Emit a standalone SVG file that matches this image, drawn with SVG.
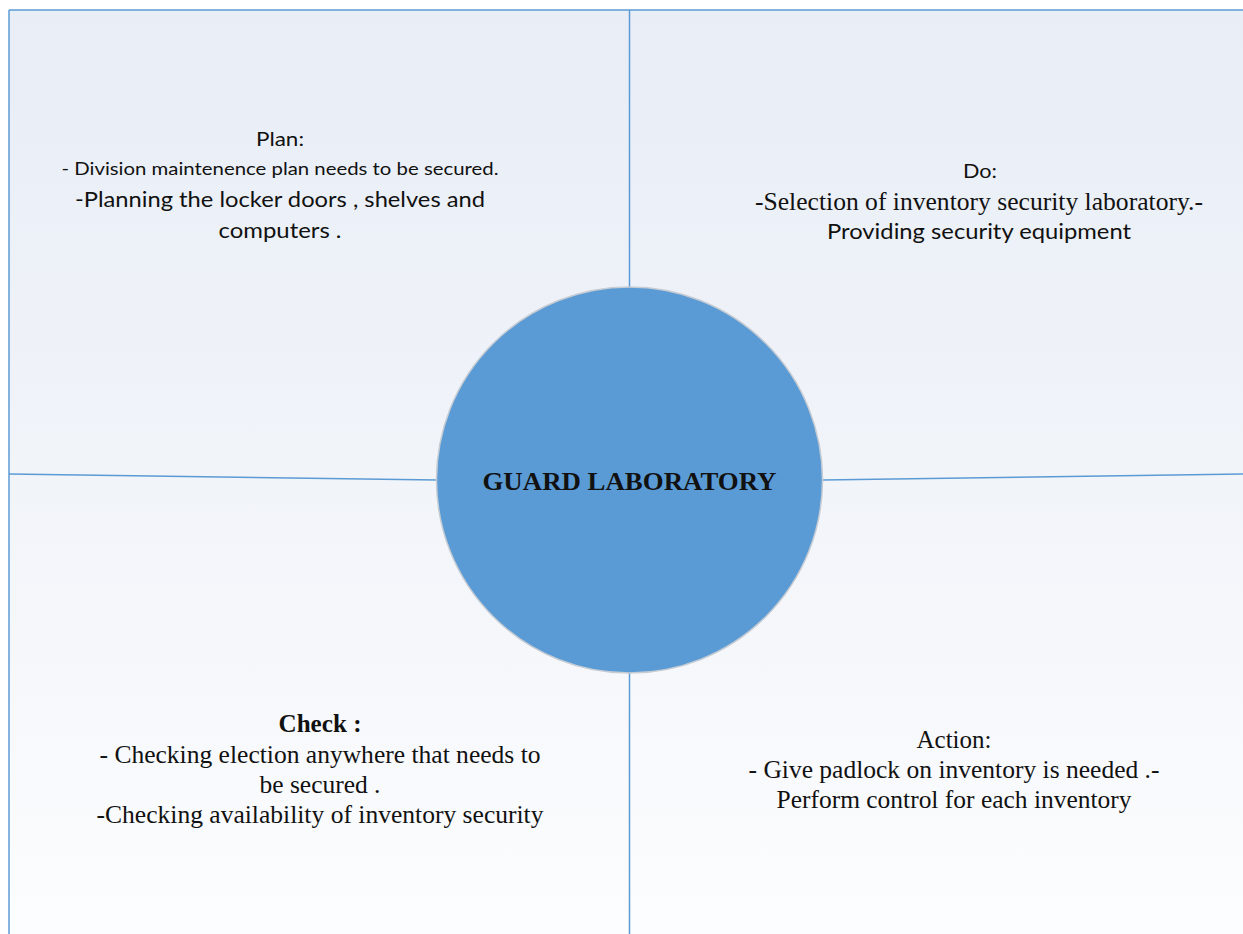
<svg xmlns="http://www.w3.org/2000/svg" width="1243" height="934" viewBox="0 0 1243 934">
<defs>
<linearGradient id="bg" x1="0" y1="0" x2="0" y2="1">
<stop offset="0" stop-color="#e8edf6"/>
<stop offset="0.5" stop-color="#f1f4f9"/>
<stop offset="1" stop-color="#fcfdfe"/>
</linearGradient>
</defs>
<style>
.ln{stroke:#5b9bd5;stroke-width:1.5;fill:none}
.cal{font-family:Lato,"Liberation Sans",sans-serif;fill:#111;text-anchor:middle}
.tnr{font-family:"Liberation Serif",serif;fill:#111;text-anchor:middle}
</style>
<rect x="0" y="0" width="1243" height="934" fill="#ffffff"/>
<rect x="9" y="10" width="1240" height="930" fill="url(#bg)"/>
<g id="connectors">
<line class="ln" x1="9" y1="10" x2="1243" y2="10"/>
<line class="ln" x1="9" y1="10" x2="9" y2="934"/>
<line class="ln" x1="629.5" y1="10" x2="629.5" y2="288"/>
<line class="ln" x1="629.5" y1="672" x2="629.5" y2="934"/>
<line class="ln" x1="9" y1="474" x2="437" y2="480"/>
<line class="ln" x1="822" y1="480" x2="1243" y2="474"/>
</g>
<g id="plan">
<text class="cal" x="280" y="146" font-size="20" textLength="48" lengthAdjust="spacingAndGlyphs">Plan:</text>
<text class="cal" x="280" y="175" font-size="16.5" textLength="437" lengthAdjust="spacingAndGlyphs">- Division maintenence plan needs to be secured.</text>
<text class="cal" x="280" y="207" font-size="22" textLength="410" lengthAdjust="spacingAndGlyphs">-Planning the locker doors , shelves and</text>
<text class="cal" x="280" y="238" font-size="22" textLength="123" lengthAdjust="spacingAndGlyphs">computers .</text>
</g>
<g id="do">
<text class="cal" x="980" y="178" font-size="20" textLength="34" lengthAdjust="spacingAndGlyphs">Do:</text>
<text class="tnr" x="979" y="210" font-size="25" textLength="448" lengthAdjust="spacingAndGlyphs">-Selection of inventory security laboratory.-</text>
<text class="cal" x="979" y="239" font-size="22" textLength="304" lengthAdjust="spacingAndGlyphs">Providing security equipment</text>
</g>
<g id="center">
<circle cx="629.5" cy="480" r="193" fill="#5b9bd5" stroke="#c6ccd3" stroke-width="1.5"/>
<text class="tnr" x="629.5" y="490" font-size="26" font-weight="bold" textLength="294" lengthAdjust="spacingAndGlyphs">GUARD LABORATORY</text>
</g>
<g id="check">
<text class="tnr" x="320" y="732" font-size="25" font-weight="bold" textLength="83" lengthAdjust="spacingAndGlyphs">Check :</text>
<text class="tnr" x="320" y="763" font-size="25" textLength="441" lengthAdjust="spacingAndGlyphs">- Checking election anywhere that needs to</text>
<text class="tnr" x="320" y="793" font-size="25" textLength="121" lengthAdjust="spacingAndGlyphs">be secured .</text>
<text class="tnr" x="320" y="823" font-size="25" textLength="447" lengthAdjust="spacingAndGlyphs">-Checking availability of inventory security</text>
</g>
<g id="action">
<text class="tnr" x="954" y="748" font-size="25" textLength="75" lengthAdjust="spacingAndGlyphs">Action:</text>
<text class="tnr" x="954" y="778" font-size="25" textLength="411" lengthAdjust="spacingAndGlyphs">- Give padlock on inventory is needed .-</text>
<text class="tnr" x="954" y="808" font-size="25" textLength="355" lengthAdjust="spacingAndGlyphs">Perform control for each inventory</text>
</g>
</svg>
